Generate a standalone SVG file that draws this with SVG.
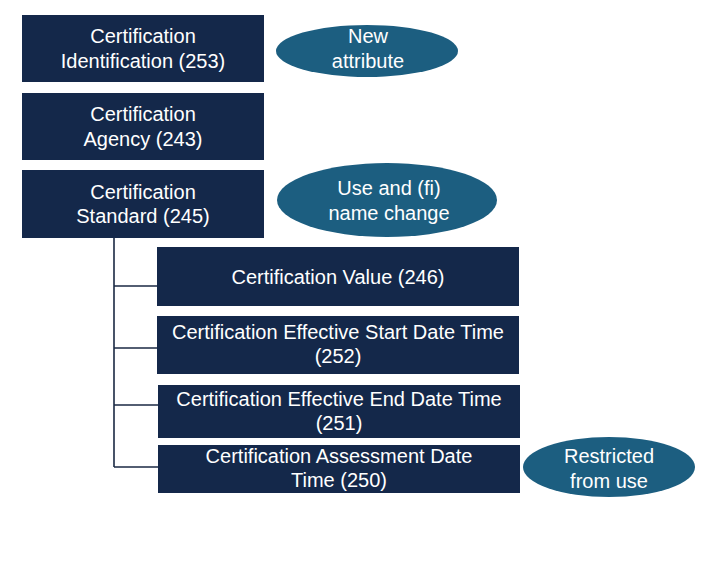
<svg xmlns="http://www.w3.org/2000/svg" width="712" height="568" viewBox="0 0 712 568">
<style>
.box{fill:#14284a}
.oval{fill:#1c5e80}
.t{font-family:"Liberation Sans",Arial,sans-serif;font-size:20px;fill:#ffffff;text-anchor:middle}
.conn{stroke:#1b2a44;stroke-width:1.6;fill:none}
</style>
<rect width="712" height="568" fill="#ffffff"/>
<g id="connectors">
<path class="conn" d="M114 238 V467 M114 286 H157 M114 348 H157 M114 405 H158 M114 467 H158"/>
</g>
<g id="n253">
<rect class="box" x="22" y="15" width="242" height="67"/>
<text class="t" x="143" y="43">Certification</text>
<text class="t" x="143" y="68">Identification (253)</text>
</g>
<g id="n243">
<rect class="box" x="22" y="93" width="242" height="67"/>
<text class="t" x="143" y="121">Certification</text>
<text class="t" x="143" y="146">Agency (243)</text>
</g>
<g id="n245">
<rect class="box" x="22" y="170" width="242" height="68"/>
<text class="t" x="143" y="199">Certification</text>
<text class="t" x="143" y="223">Standard (245)</text>
</g>
<g id="noteNew">
<ellipse class="oval" cx="367" cy="51" rx="91" ry="26"/>
<text class="t" x="368" y="43">New</text>
<text class="t" x="368" y="68">attribute</text>
</g>
<g id="noteUse">
<ellipse class="oval" cx="387" cy="200" rx="110" ry="37"/>
<text class="t" x="389" y="195">Use and (fi)</text>
<text class="t" x="389" y="220">name change</text>
</g>
<g id="n246">
<rect class="box" x="157" y="247" width="362" height="59"/>
<text class="t" x="338" y="284">Certification Value (246)</text>
</g>
<g id="n252">
<rect class="box" x="157" y="316" width="362" height="58"/>
<text class="t" x="338" y="339">Certification Effective Start Date Time</text>
<text class="t" x="338" y="363">(252)</text>
</g>
<g id="n251">
<rect class="box" x="158" y="385" width="362" height="53"/>
<text class="t" x="339" y="406">Certification Effective End Date Time</text>
<text class="t" x="339" y="430">(251)</text>
</g>
<g id="n250">
<rect class="box" x="158" y="445" width="362" height="48"/>
<text class="t" x="339" y="463">Certification Assessment Date</text>
<text class="t" x="339" y="487">Time (250)</text>
</g>
<g id="noteRestricted">
<ellipse class="oval" cx="609" cy="467" rx="86" ry="30"/>
<text class="t" x="609" y="463">Restricted</text>
<text class="t" x="609" y="488">from use</text>
</g>
</svg>
